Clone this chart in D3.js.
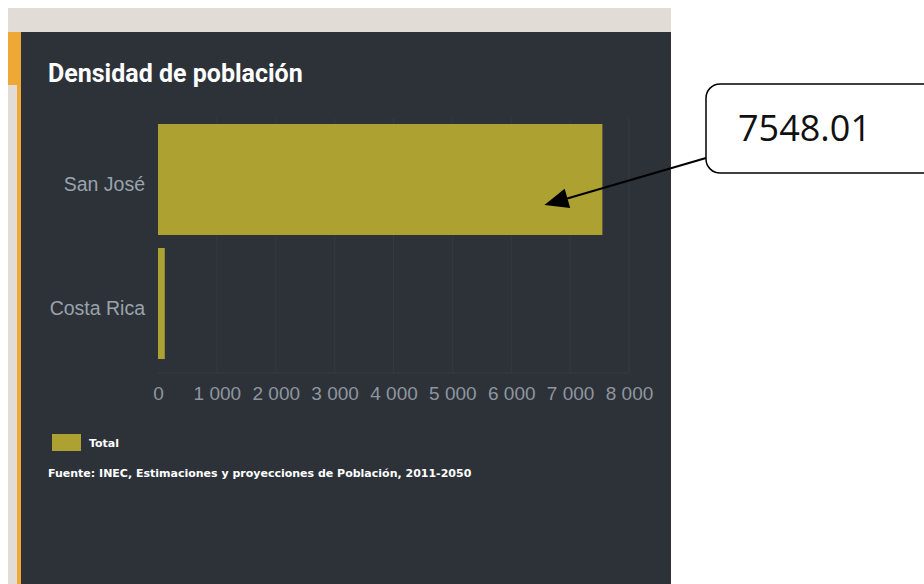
<!DOCTYPE html>
<html><head><meta charset="utf-8">
<script src="https://cdn.jsdelivr.net/npm/d3@7"></script>
<style>html,body{margin:0;padding:0;background:#fff;}svg{display:block;}</style>
</head><body>
<script>
const categories = ["San José", "Costa Rica"];
const values = [7548.01, 115];
const tickValues = [0, 1000, 2000, 3000, 4000, 5000, 6000, 7000, 8000];
const seriesName = "Total";
const title = "Densidad de población";
const source = "Fuente: INEC, Estimaciones y proyecciones de Población, 2011-2050";
const calloutText = "7548.01";

const W = 924, H = 584;
const svg = d3.select("body").append("svg").attr("width", W).attr("height", H);

svg.append("rect").attr("x",0).attr("y",0).attr("width",W).attr("height",H).attr("fill","#fff");
svg.append("rect").attr("x",8).attr("y",8).attr("width",663).attr("height",24).attr("fill","#e1dcd6");
svg.append("rect").attr("x",8).attr("y",32).attr("width",13).attr("height",H-32).attr("fill","#e1dcd6");
svg.append("rect").attr("x",8).attr("y",32).attr("width",13).attr("height",53).attr("fill","#efa735");
svg.append("rect").attr("x",17).attr("y",85).attr("width",4).attr("height",H-85).attr("fill","#efa735");
svg.append("rect").attr("x",21).attr("y",32).attr("width",650).attr("height",H-32).attr("fill","#2d3239");

svg.append("text").attr("x",48).attr("y",82).attr("fill","#ffffff")
  .attr("font-family","Roboto, sans-serif").attr("font-weight","bold").attr("font-size",25)
  .text(title);

const x = d3.scaleLinear().domain([0, 8000]).range([158, 629]);
const y = d3.scaleBand().domain(categories).range([117.8, 365.2]).paddingInner(0.105).paddingOuter(0.05);

// gridlines
svg.append("g").selectAll("line").data(tickValues.slice(1)).join("line")
  .attr("x1", d=>x(d)).attr("x2", d=>x(d)).attr("y1",118).attr("y2",373)
  .attr("stroke","#343a41").attr("stroke-width",1);
svg.append("line").attr("x1",158).attr("x2",629).attr("y1",373).attr("y2",373)
  .attr("stroke","#343a41");

// bars
svg.append("g").selectAll("rect").data(categories).join("rect")
  .attr("x", x(0)).attr("y", d=>y(d))
  .attr("width", (d,i)=>x(values[i]) - x(0)).attr("height", y.bandwidth())
  .attr("fill","#ada231");

// y axis
const yAxis = svg.append("g").attr("transform","translate(145,5)")
  .call(d3.axisLeft(y).tickSize(0).tickPadding(0));
yAxis.select(".domain").remove();
yAxis.selectAll("text").attr("fill","#9aa3ab").attr("font-size",19.5)
  .attr("font-family","Arial, 'Liberation Sans', sans-serif");

// x axis
const fmt = d => d3.format(",")(d).replace(/,/g, " ");
const xAxis = svg.append("g").attr("transform","translate(0,386)")
  .call(d3.axisBottom(x).tickValues(tickValues).tickSize(0).tickPadding(0).tickFormat(fmt));
xAxis.select(".domain").remove();
xAxis.selectAll("text").attr("fill","#8d969f").attr("font-size",19)
  .attr("dy","0.71em")
  .attr("font-family","Arial, 'Liberation Sans', sans-serif");

// legend
svg.append("rect").attr("x",52).attr("y",434).attr("width",29).attr("height",17).attr("fill","#ada231");
svg.append("text").attr("x",89).attr("y",447).attr("fill","#fff")
  .attr("font-family","'DejaVu Sans', sans-serif").attr("font-weight","bold").attr("font-size",11)
  .text(seriesName);
svg.append("text").attr("x",48).attr("y",477).attr("fill","#fff")
  .attr("font-family","'DejaVu Sans', sans-serif").attr("font-weight","bold").attr("font-size",11)
  .text(source);

// callout
const tipX = x(values[0]) - 58, tipY = y(categories[0]) + y.bandwidth()*0.73;
svg.append("line").attr("x1",706).attr("y1",158).attr("x2",tipX+4).attr("y2",tipY-1)
  .attr("stroke","#000").attr("stroke-width",2);
svg.append("path")
  .attr("d", (()=>{const a=Math.atan2(tipY-158, tipX-706); const L=24, w=10;
    const bx=tipX-L*Math.cos(a), by=tipY-L*Math.sin(a);
    const px=-Math.sin(a)*w, py=Math.cos(a)*w;
    return `M${tipX},${tipY} L${bx+px},${by+py} L${bx-px},${by-py} Z`;})())
  .attr("fill","#000");
svg.append("rect").attr("x",706).attr("y",84).attr("width",240).attr("height",89)
  .attr("rx",14).attr("fill","#fff").attr("stroke","#000").attr("stroke-width",1.5);
svg.append("text").attr("x",738).attr("y",141).attr("fill","#111")
  .attr("font-family","'Open Sans', 'Noto Sans', sans-serif").attr("font-size",36)
  .text(calloutText);
</script>
</body></html>
